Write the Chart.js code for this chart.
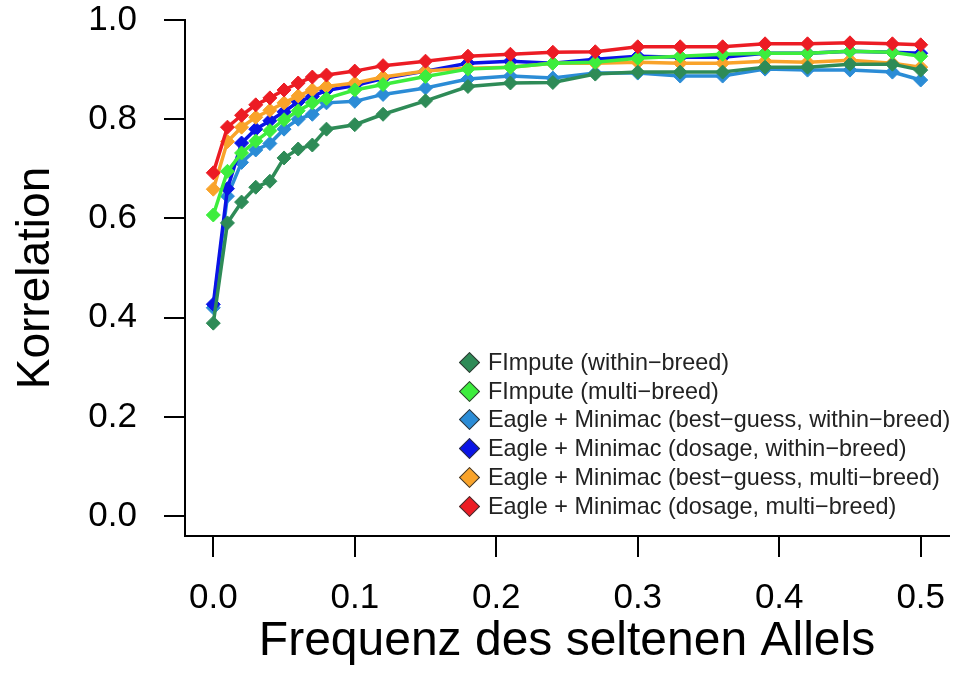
<!DOCTYPE html>
<html>
<head>
<meta charset="utf-8">
<script src="https://cdn.jsdelivr.net/npm/chart.js@4.4.1/dist/chart.umd.min.js"></script>
<style>
  body { margin: 0; background: #fff; }
  #wrap { position: relative; width: 969px; height: 680px; font-family: "Liberation Sans", Arial, Helvetica, sans-serif; }
  #legend { position: absolute; left: 457px; top: 348px; }
  .row { display: flex; align-items: center; height: 28.8px; font-size: 23.4px; color: #222; white-space: nowrap; }
  .mark { width: 13px; height: 13px; margin: 0 11px 0 5px; transform: rotate(45deg); border: 1.5px solid #333; box-sizing: content-box; }
</style>
</head>
<body>
<div id="wrap">
  <canvas id="chart" width="969" height="680"></canvas>
  <div id="legend"></div>
</div>
<script>
// Frequenz des seltenen Allels (x positions of the points)
const freq = [0.0, 0.01, 0.02, 0.03, 0.04, 0.05, 0.06, 0.07, 0.08, 0.10, 0.12, 0.15,
              0.18, 0.21, 0.24, 0.27, 0.30, 0.33, 0.36, 0.39, 0.42, 0.45, 0.48, 0.50];

const fimputeWithin = [0.389, 0.591, 0.633, 0.663, 0.675, 0.722, 0.740, 0.748, 0.780, 0.789, 0.810, 0.837,
                       0.866, 0.873, 0.874, 0.891, 0.895, 0.895, 0.895, 0.905, 0.905, 0.911, 0.911, 0.899];
const fimputeMulti = [0.607, 0.695, 0.732, 0.756, 0.777, 0.799, 0.817, 0.833, 0.842, 0.859, 0.870, 0.886,
                      0.901, 0.905, 0.913, 0.915, 0.923, 0.927, 0.931, 0.933, 0.933, 0.937, 0.935, 0.927];
const bestGuessWithin = [0.420, 0.645, 0.713, 0.738, 0.751, 0.780, 0.800, 0.810, 0.833, 0.836, 0.850, 0.863,
                         0.881, 0.887, 0.883, 0.893, 0.893, 0.887, 0.887, 0.901, 0.899, 0.899, 0.895, 0.879];
const dosageWithin = [0.427, 0.660, 0.752, 0.780, 0.797, 0.815, 0.835, 0.846, 0.858, 0.868, 0.882, 0.897,
                      0.913, 0.917, 0.913, 0.921, 0.927, 0.925, 0.925, 0.933, 0.933, 0.937, 0.935, 0.933];
const bestGuessMulti = [0.659, 0.755, 0.784, 0.804, 0.818, 0.833, 0.847, 0.859, 0.866, 0.873, 0.885, 0.897,
                        0.903, 0.905, 0.913, 0.913, 0.915, 0.913, 0.913, 0.917, 0.915, 0.919, 0.913, 0.905];
const dosageMulti = [0.692, 0.784, 0.808, 0.829, 0.843, 0.859, 0.873, 0.885, 0.889, 0.897, 0.908, 0.917,
                     0.927, 0.931, 0.935, 0.936, 0.946, 0.946, 0.946, 0.952, 0.952, 0.954, 0.952, 0.950];

const xTicks = [0, 0.1, 0.2, 0.3, 0.4, 0.5];
const yTicks = [0, 0.2, 0.4, 0.6, 0.8, 1.0];

const labels = [
    'FImpute (within−breed)',
    'FImpute (multi−breed)',
    'Eagle + Minimac (best−guess, within−breed)',
    'Eagle + Minimac (dosage, within−breed)',
    'Eagle + Minimac (best−guess, multi−breed)',
    'Eagle + Minimac (dosage, multi−breed)'
];
const colors = ['#2e8b57', '#3ded3d', '#2b8cd6', '#0a14e6', '#f9a32a', '#ec1c24'];
const series = [fimputeWithin, fimputeMulti, bestGuessWithin, dosageWithin, bestGuessMulti, dosageMulti];
// lower = drawn later (on top)
const drawOrder = [3, 1, 6, 5, 4, 0];

const font = '"Liberation Sans", Arial, Helvetica, sans-serif';

const datasets = series.map((vals, i) => ({
    label: labels[i],
    data: freq.map((f, j) => ({ x: f, y: vals[j] })),
    borderColor: colors[i],
    backgroundColor: colors[i],
    pointBackgroundColor: colors[i],
    pointBorderColor: colors[i],
    borderWidth: 3.5,
    pointStyle: 'rectRot',
    pointRadius: 7,
    pointBorderWidth: 1,
    tension: 0,
    order: drawOrder[i]
}));

// keep tick padding from pushing the plot area around
const noPad = s => { s.paddingTop = 0; s.paddingBottom = 0; s.paddingLeft = 0; s.paddingRight = 0; };

new Chart(document.getElementById('chart'), {
    type: 'line',
    data: { datasets },
    options: {
        responsive: false,
        devicePixelRatio: 1,
        animation: false,
        layout: { padding: { top: 20, right: 20, left: 0, bottom: 0 } },
        plugins: { legend: { display: false }, tooltip: { enabled: false } },
        scales: {
            x: {
                type: 'linear',
                min: -0.02,
                max: 0.52,
                afterBuildTicks: s => { s.ticks = xTicks.map(v => ({ value: v })); },
                afterFit: s => { s.height = 144; noPad(s); },
                grid: { drawOnChartArea: false, drawTicks: true, tickLength: 21, color: '#000', lineWidth: 2 },
                border: { display: true, color: '#000', width: 2 },
                ticks: { color: '#000', padding: 20, font: { family: font, size: 35 }, callback: v => v.toFixed(1), maxRotation: 0 },
                title: { display: true, text: 'Frequenz des seltenen Allels', color: '#000', font: { family: font, size: 48 }, padding: { top: 0, bottom: 9 } }
            },
            y: {
                min: -0.04,
                max: 1.0,
                afterBuildTicks: s => { s.ticks = yTicks.map(v => ({ value: v })); },
                afterFit: s => { s.width = 185; noPad(s); },
                grid: { drawOnChartArea: false, drawTicks: true, tickLength: 21, color: '#000', lineWidth: 2 },
                border: { display: true, color: '#000', width: 2 },
                ticks: { color: '#000', padding: 27, font: { family: font, size: 35 }, callback: v => v.toFixed(1) },
                title: { display: true, text: 'Korrelation', color: '#000', font: { family: font, size: 46 }, padding: { top: 9, bottom: 0 } }
            }
        }
    }
});

// legend inside the plot, built from the same labels and colours
const legend = document.getElementById('legend');
labels.forEach((l, i) => {
    const row = document.createElement('div');
    row.className = 'row';
    row.innerHTML = `<span class="mark" style="background:${colors[i]}"></span><span>${l}</span>`;
    legend.appendChild(row);
});
</script>
</body>
</html>
